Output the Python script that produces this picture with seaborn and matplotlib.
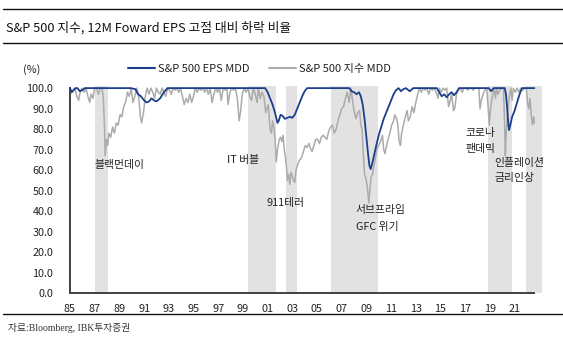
import matplotlib
matplotlib.use("Agg")
import matplotlib.pyplot as plt
from matplotlib.lines import Line2D
import seaborn as sns
import pandas as pd

# ---------------- data ----------------
title = "S&P 500 지수, 12M Foward EPS 고점 대비 하락 비율"
source = "자료:Bloomberg, IBK투자증권"
unit_label = "(%)"
series_names = ["S&P 500 EPS MDD", "S&P 500 지수 MDD"]

xtick_years = list(range(1985, 2022, 2))
ytick_vals = [0, 10, 20, 30, 40, 50, 60, 70, 80, 90, 100]

shade_start = [1987.0, 1999.4, 2002.5, 2006.1, 2018.85, 2021.9]
shade_end = [1988.1, 2001.7, 2003.4, 2009.9, 2020.8, 2023.2]

ann_text = ["블랙먼데이", "IT 버블", "911테러", "서브프라임", "GFC 위기",
            "코로나", "팬데믹", "인플레이션", "금리인상"]
ann_year = [1987.0, 1997.7, 2000.95, 2008.15, 2008.15, 2017.0, 2017.0, 2019.35, 2019.35]
ann_val = [62.4, 65.0, 44.0, 40.5, 32.2, 78.0, 70.2, 63.4, 56.1]

eps_year = [1985.0, 1985.15, 1985.3, 1985.45, 1985.6, 1985.8, 1986.0, 1986.2, 1987.0,
            1989.9, 1990.3, 1990.5, 1990.75, 1991.0, 1991.2, 1991.4, 1991.6, 1991.8,
            1992.0, 1992.3, 1992.6, 1992.9, 1993.3, 2000.8, 2001.0, 2001.2, 2001.4,
            2001.6, 2001.8, 2001.9, 2002.05, 2002.2, 2002.4, 2002.6, 2002.8, 2003.0,
            2003.2, 2003.4, 2003.6, 2003.8, 2004.0, 2004.2, 2007.6, 2007.8, 2008.0,
            2008.2, 2008.4, 2008.55, 2008.7, 2008.85, 2009.0, 2009.15, 2009.25, 2009.35,
            2009.5, 2009.65, 2009.8, 2010.0, 2010.2, 2010.4, 2010.6, 2010.8, 2011.0,
            2011.2, 2011.4, 2011.6, 2011.8, 2012.0, 2012.2, 2012.5, 2012.8, 2014.7,
            2014.9, 2015.1, 2015.3, 2015.5, 2015.7, 2015.9, 2016.1, 2016.3, 2016.5,
            2018.9, 2019.1, 2019.3, 2020.2, 2020.3, 2020.4, 2020.5, 2020.55, 2020.65,
            2020.8, 2021.0, 2021.2, 2021.4, 2021.6, 2022.6]
eps_mdd = [100, 98, 99, 100, 100, 98.5, 99, 100, 100,
           100, 99.5, 97, 96, 94, 93, 93.5, 95, 94,
           93.5, 95, 98, 100, 100, 100, 98, 95, 92,
           88, 83, 84, 87, 86.5, 85, 85.5, 86, 85.5,
           87, 90, 93, 96, 98.5, 100, 100, 98.5, 98,
           97, 98, 96, 92, 85, 76, 67, 62, 60.5,
           64, 68, 72, 77, 81, 85, 88, 91, 94,
           97, 99, 100, 98.5, 99.5, 100, 98.5, 100, 100,
           98, 96, 97, 95.5, 97, 98, 96.5, 98, 100,
           100, 98.5, 100, 100, 97, 90, 82, 79.5, 82,
           86, 89, 93, 97, 100, 100]

idx_year = [1985.0, 1985.2, 1985.4, 1985.55, 1985.7, 1985.85, 1986.0, 1986.15, 1986.3,
            1986.45, 1986.6, 1986.7, 1986.85, 1987.0, 1987.15, 1987.3, 1987.45, 1987.6,
            1987.7, 1987.8, 1987.85, 1987.95, 1988.05, 1988.15, 1988.3, 1988.45, 1988.6,
            1988.75, 1988.9, 1989.05, 1989.2, 1989.35, 1989.5, 1989.65, 1989.8, 1989.95,
            1990.1, 1990.25, 1990.4, 1990.55, 1990.7, 1990.8, 1990.95, 1991.1, 1991.25,
            1991.4, 1991.55, 1991.7, 1991.85, 1992.0, 1992.15, 1992.3, 1992.45, 1992.6,
            1992.75, 1992.9, 1993.05, 1993.2, 1993.35, 1993.5, 1993.65, 1993.8, 1993.95,
            1994.1, 1994.25, 1994.4, 1994.55, 1994.7, 1994.85, 1995.0, 1995.15, 1995.3,
            1995.45, 1995.6, 1995.75, 1995.9, 1996.05, 1996.2, 1996.35, 1996.5, 1996.65,
            1996.8, 1996.95, 1997.1, 1997.25, 1997.4, 1997.55, 1997.7, 1997.8, 1997.95,
            1998.1, 1998.25, 1998.4, 1998.55, 1998.7, 1998.8, 1998.95, 1999.1, 1999.25,
            1999.4, 1999.55, 1999.7, 1999.85, 2000.0, 2000.15, 2000.25, 2000.4, 2000.55,
            2000.7, 2000.85, 2000.95, 2001.05, 2001.2, 2001.3, 2001.4, 2001.5, 2001.6,
            2001.7, 2001.8, 2001.95, 2002.05, 2002.15, 2002.25, 2002.35, 2002.45, 2002.55,
            2002.6, 2002.7, 2002.8, 2002.9, 2003.0, 2003.1, 2003.2, 2003.3, 2003.45,
            2003.6, 2003.75, 2003.9, 2004.05, 2004.2, 2004.35, 2004.5, 2004.6, 2004.75,
            2004.9, 2005.05, 2005.2, 2005.35, 2005.5, 2005.65, 2005.8, 2005.95, 2006.1,
            2006.25, 2006.4, 2006.55, 2006.7, 2006.85, 2007.0, 2007.15, 2007.3, 2007.45,
            2007.6, 2007.75, 2007.85, 2008.0, 2008.15, 2008.3, 2008.45, 2008.55, 2008.65,
            2008.75, 2008.85, 2008.95, 2009.05, 2009.15, 2009.2, 2009.3, 2009.4, 2009.5,
            2009.6, 2009.7, 2009.85, 2010.0, 2010.15, 2010.3, 2010.4, 2010.5, 2010.6,
            2010.75, 2010.9, 2011.05, 2011.2, 2011.3, 2011.45, 2011.55, 2011.65, 2011.75,
            2011.85, 2012.0, 2012.15, 2012.3, 2012.4, 2012.55, 2012.7, 2012.85, 2013.0,
            2013.15, 2013.3, 2013.45, 2013.6, 2013.75, 2013.9, 2014.05, 2014.2, 2014.35,
            2014.5, 2014.65, 2014.8, 2014.9, 2015.05, 2015.2, 2015.35, 2015.5, 2015.65,
            2015.75, 2015.9, 2016.05, 2016.15, 2016.3, 2016.45, 2016.6, 2016.75, 2016.9,
            2017.05, 2017.2, 2017.35, 2017.5, 2017.65, 2017.8, 2017.95, 2018.1, 2018.2,
            2018.3, 2018.45, 2018.6, 2018.75, 2018.85, 2018.95, 2019.05, 2019.2, 2019.35,
            2019.45, 2019.55, 2019.65, 2019.8, 2019.95, 2020.1, 2020.2, 2020.25, 2020.32,
            2020.45, 2020.55, 2020.7, 2020.8, 2020.9, 2021.05, 2021.2, 2021.35, 2021.5,
            2021.65, 2021.8, 2021.95, 2022.05, 2022.15, 2022.25, 2022.35, 2022.45, 2022.55,
            2022.6]
idx_mdd = [97, 99, 100, 96, 94, 99, 100, 98, 100,
           96, 93, 97, 95, 100, 100, 97, 100, 100,
           95, 80, 67, 75, 72, 78, 76, 81, 78,
           83, 82, 87, 86, 91, 93, 98, 96, 100,
           93, 96, 100, 97, 86, 83, 88, 96, 100,
           97, 100, 98, 95, 100, 98, 97, 100, 98,
           96, 100, 99, 97, 100, 99, 100, 98, 100,
           96, 92, 95, 93, 97, 93, 96, 100, 98,
           100, 99, 100, 98, 100, 97, 100, 93, 97,
           100, 98, 100, 94, 100, 99, 100, 92, 98,
           100, 99, 100, 95, 84, 88, 97, 100, 98,
           100, 96, 94, 100, 97, 93, 100, 95, 98,
           96, 88, 90, 92, 80, 78, 84, 81, 76,
           64, 70, 75, 76, 74, 77, 70, 66, 60,
           55, 58, 53, 59, 57, 55, 54, 60, 63,
           65, 66, 69, 72, 71, 73, 70, 69, 72,
           75, 75, 73, 76, 77, 76, 75, 79, 81,
           82, 78, 80, 84, 87, 90, 91, 95, 98,
           93, 100, 95, 89, 85, 88, 89, 82, 80,
           68, 58, 56, 53, 47, 44, 52, 57, 58,
           62, 65, 70, 72, 74, 77, 70, 68, 71,
           75, 78, 82, 84, 87, 85, 82, 74, 72,
           78, 82, 86, 89, 84, 86, 91, 88, 93,
           97, 100, 98, 100, 99, 100, 97, 100, 99,
           100, 98, 95, 100, 98, 100, 99, 100, 91,
           93, 97, 89, 90, 97, 99, 100, 98, 100,
           100, 99, 100, 100, 99, 100, 100, 100, 90,
           94, 97, 99, 100, 91, 82, 90, 96, 100,
           95, 100, 97, 99, 100, 100, 80, 67, 78,
           90, 95, 100, 94, 100, 98, 100, 98, 100,
           99, 100, 100, 93, 90, 95, 87, 82, 86,
           83]

# ---------------- style ----------------
sns.set_theme(style="white")
plt.rcParams["font.family"] = ["Noto Sans CJK KR", "DejaVu Sans"]

BLUE = "#1c3f8c"
GRAY = "#ababab"
SHADE = "#e2e2e2"
AXC = "#404040"
TXT = "#222222"

fig = plt.figure(figsize=(5.63, 3.37), dpi=100)
ax = fig.add_axes([0.1243, 0.1306, 0.8402, 0.614])

for s, e in zip(shade_start, shade_end):
    ax.axvspan(s, e, color=SHADE, lw=0, zorder=0)

df_idx = pd.DataFrame({"year": idx_year, "mdd": idx_mdd})
df_eps = pd.DataFrame({"year": eps_year, "mdd": eps_mdd})
sns.lineplot(data=df_idx, x="year", y="mdd", ax=ax, color=GRAY, lw=1.1, zorder=2)
sns.lineplot(data=df_eps, x="year", y="mdd", ax=ax, color=BLUE, lw=1.3, zorder=3)

ax.set_xlim(1985, 2023.3)
ax.set_ylim(0, 101)
ax.set_xlabel("")
ax.set_ylabel("")
ax.set_xticks(xtick_years)
ax.set_xticklabels([f"{y % 100:02d}" for y in xtick_years])
ax.set_yticks(ytick_vals)
ax.set_yticklabels([f"{v:.1f}" for v in ytick_vals])
ax.tick_params(axis="both", direction="in", length=3, width=1, color=AXC,
               labelsize=7.8, labelcolor=TXT)
ax.tick_params(axis="x", pad=8)
ax.tick_params(axis="y", pad=12)
for side in ["top", "right"]:
    ax.spines[side].set_visible(False)
for side in ["left", "bottom"]:
    ax.spines[side].set_color(AXC)
    ax.spines[side].set_linewidth(1.4)
ax.spines["bottom"].set_bounds(1985, 2022.6)
ax.spines["left"].set_bounds(0, 100)

for t, x, y in zip(ann_text, ann_year, ann_val):
    ax.text(x, y, t, fontsize=7.8, color=TXT, ha="left", va="center", zorder=5)

# legend
handles = [Line2D([], [], color=BLUE, lw=1.5), Line2D([], [], color=GRAY, lw=1.5)]
fig.legend(handles, series_names, loc="center left", bbox_to_anchor=(0.21, 0.795),
           ncol=2, frameon=False, fontsize=8, handlelength=2.4, handletextpad=0.25,
           columnspacing=1.8, labelcolor=TXT)

fig.text(0.041, 0.795, unit_label, fontsize=7.8, color=TXT, ha="left", va="center")

# title & rules
fig.text(0.011, 0.917, title, fontsize=9.2, color="#111111", fontweight="medium",
         ha="left", va="center")
fig.add_artist(Line2D([0.005, 1.0], [1 - 9 / 337, 1 - 9 / 337], color="#111111", lw=1.0))
fig.add_artist(Line2D([0.005, 1.0], [1 - 43 / 337, 1 - 43 / 337], color="#111111", lw=1.0))
fig.add_artist(Line2D([0.005, 1.0], [1 - 314 / 337, 1 - 314 / 337], color="#111111", lw=1.0))
fig.text(0.014, 1 - 328 / 337, source, fontsize=7, color="#333333", ha="left", va="center",
         family=["Liberation Serif", "Noto Sans CJK KR"])

fig.savefig("out.png", dpi=100)
